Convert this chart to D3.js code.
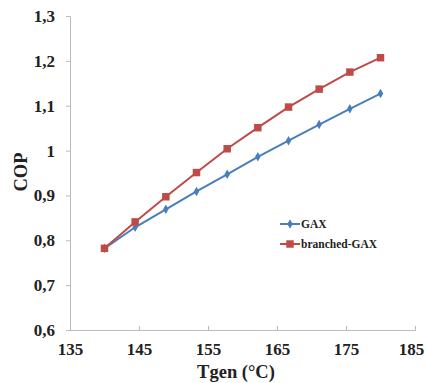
<!DOCTYPE html>
<html>
<head>
<meta charset="utf-8">
<script src="https://cdn.jsdelivr.net/npm/d3@7"></script>
<style>
  body { margin: 0; background: #fff; }
  text { font-family: "Liberation Serif", "Times New Roman", serif; font-weight: bold; fill: #222; }
</style>
</head>
<body>
<div id="chart"></div>
<script>
// Generator temperature (°C)
const tgen = [140, 144.44, 148.89, 153.33, 157.78, 162.22, 166.67, 171.11, 175.56, 180];
const gax = [0.782, 0.829, 0.869, 0.909, 0.947, 0.986, 1.022, 1.058, 1.093, 1.127];
const branchedGax = [0.782, 0.841, 0.897, 0.951, 1.004, 1.051, 1.097, 1.137, 1.175, 1.207];
const xTicks = [135, 145, 155, 165, 175, 185];
const yTicks = [0.6, 0.7, 0.8, 0.9, 1.0, 1.1, 1.2, 1.3];

const series = [
    { name: "GAX", values: gax, color: "#4a7ebb", marker: "diamond" },
    { name: "branched-GAX", values: branchedGax, color: "#be4b48", marker: "square" },
];

const width = 426, height = 383;
const margin = { top: 16, right: 11, bottom: 53, left: 70 };

const svg = d3.select("#chart")
    .append("svg")
    .attr("width", width)
    .attr("height", height);

const x = d3.scaleLinear()
    .domain([135, 185])
    .range([margin.left, width - margin.right]);

const y = d3.scaleLinear()
    .domain([0.6, 1.3])
    .range([height - margin.bottom, margin.top]);

const fmt = d => d3.format(".1~f")(d).replace(".", ",");

// X axis (ticks point inward)
const xAxis = svg.append("g")
    .attr("transform", `translate(0,${height - margin.bottom})`)
    .call(d3.axisBottom(x).tickValues(xTicks).tickSize(-4).tickPadding(13));
xAxis.selectAll("text").style("font-size", "17px");
// last label sits right at the edge, nudge it in so it isn't clipped
xAxis.selectAll(".tick text").filter(d => d === 185).attr("dx", -4);

// Y axis
const yAxis = svg.append("g")
    .attr("transform", `translate(${margin.left},0)`)
    .call(d3.axisLeft(y).tickValues(yTicks).tickFormat(fmt).tickSize(4).tickPadding(11));
yAxis.selectAll("text").style("font-size", "17px");

[xAxis, yAxis].forEach(g => {
    g.select(".domain").attr("stroke", "#bbb");
    g.selectAll(".tick line").attr("stroke", "#bbb");
});

// Axis titles
svg.append("text")
    .attr("x", 236)
    .attr("y", 378)
    .attr("text-anchor", "middle")
    .style("font-size", "18.5px")
    .text("Tgen (°C)");

svg.append("text")
    .attr("transform", `translate(27,172) rotate(-90)`)
    .attr("text-anchor", "middle")
    .style("font-size", "18.5px")
    .text("COP");

const line = d3.line()
    .x((d, i) => x(tgen[i]))
    .y(d => y(d));

const symbolFor = m => m === "square"
    ? d3.symbol().type(d3.symbolSquare).size(56)
    : d3.symbol().type(d3.symbolDiamond).size(26);

series.forEach(s => {
    svg.append("path")
        .datum(s.values)
        .attr("fill", "none")
        .attr("stroke", s.color)
        .attr("stroke-width", 2)
        .attr("d", line);

    svg.selectAll(null)
        .data(s.values)
        .enter()
        .append("path")
        .attr("d", symbolFor(s.marker))
        .attr("transform", (d, i) => `translate(${x(tgen[i])},${y(d)})`)
        .attr("fill", s.color);
});

// Legend
const legend = svg.append("g").attr("transform", "translate(280,224)");
series.forEach((s, i) => {
    const row = legend.append("g").attr("transform", `translate(0,${i * 20})`);
    row.append("line")
        .attr("x1", 0).attr("x2", 20)
        .attr("stroke", s.color)
        .attr("stroke-width", 2);
    row.append("path")
        .attr("d", symbolFor(s.marker))
        .attr("transform", "translate(10,0)")
        .attr("fill", s.color);
    row.append("text")
        .attr("x", 21)
        .attr("dy", "0.35em")
        .style("font-size", "11.5px")
        .text(s.name);
});
</script>
</body>
</html>
